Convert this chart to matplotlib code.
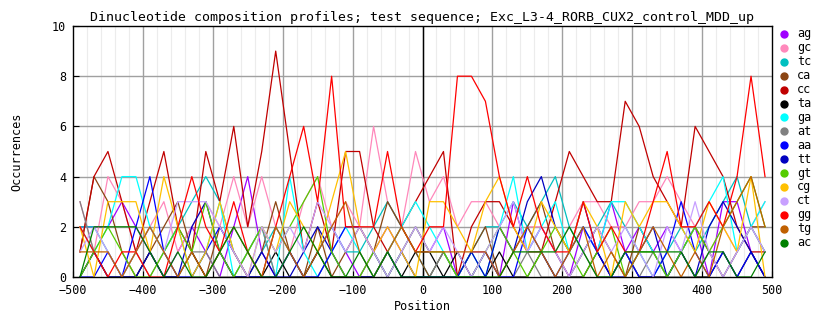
import matplotlib
matplotlib.use("Agg")
import matplotlib.pyplot as plt
from matplotlib.lines import Line2D
import numpy as np

positions = list(range(-490, 491, 20))

names = ["ag", "gc", "tc", "ca", "cc", "ta", "ga", "at", "aa", "tt", "gt", "cg", "ct", "gg", "tg", "ac"]
colors = ["#a000ff", "#ff88bb", "#00c0c0", "#8b4513", "#c00000", "#000000", "#00ffff", "#808080",
          "#0000ff", "#0000c0", "#55cc00", "#ffc000", "#c8a0ff", "#ff0000", "#c06000", "#008000"]

ag = [2,2,2,3,2,1,0,1,2,1,0,2,4,1,0,1,0,1,2,1,0,1,2,1,2,1,2,0,1,1,0,3,1,2,1,0,2,1,3,1,2,1,2,1,2,0,3,3,1,0]
gc = [3,1,4,3,1,2,3,1,2,3,2,4,2,4,2,1,3,4,2,3,2,6,3,2,5,3,4,2,3,3,2,1,2,2,1,2,3,3,2,2,3,3,4,3,2,1,2,1,2,3]
tc = [2,2,1,0,1,2,1,2,3,4,3,1,0,1,2,1,0,1,2,1,1,2,3,2,1,0,1,0,1,2,2,3,2,3,4,2,1,2,3,2,1,0,1,2,1,2,3,4,2,1]
ca = [1,4,3,1,0,1,2,3,1,0,2,1,0,1,3,1,0,2,0,1,2,1,3,2,1,0,1,0,1,2,0,1,2,3,1,0,1,2,1,0,2,1,0,1,2,1,0,1,2,2]
cc = [1,4,5,3,1,3,5,2,1,5,3,6,2,5,9,5,1,3,1,5,5,2,1,2,3,4,5,0,2,3,3,2,1,1,3,5,4,3,3,7,6,4,3,2,6,5,4,2,1,1]
ta = [0,1,0,0,0,1,0,0,1,0,1,0,0,0,1,0,0,1,0,0,0,0,1,0,1,1,0,1,0,0,1,0,0,1,0,0,0,1,0,1,0,0,0,1,0,0,1,0,1,0]
ga = [2,1,2,4,4,2,1,2,0,1,3,0,1,2,0,4,1,0,1,2,1,0,1,2,3,2,1,0,1,0,2,4,1,2,3,1,2,1,3,3,2,1,0,1,2,3,4,1,2,3]
at = [3,1,0,0,1,0,1,0,1,1,0,0,1,2,0,1,0,0,1,0,0,1,0,1,0,0,1,0,0,1,0,0,1,0,0,0,1,0,0,1,0,1,0,0,0,1,0,1,2,1]
aa = [0,0,1,0,2,4,1,0,0,1,2,1,0,0,0,1,0,0,1,2,2,1,0,1,0,0,0,0,0,1,0,0,2,1,0,1,2,1,0,1,0,0,1,3,1,0,1,0,1,0]
tt = [0,1,0,0,0,1,0,0,2,3,1,0,0,1,0,0,1,2,1,0,0,0,1,0,0,0,0,0,1,0,2,1,3,4,2,1,3,1,0,0,1,2,0,1,0,2,3,2,1,0]
gt = [0,1,2,1,0,0,1,2,1,3,1,0,1,2,1,2,3,4,1,0,0,1,0,1,2,1,1,0,0,1,2,1,0,1,2,1,0,1,2,0,1,1,0,1,2,1,2,3,4,2]
cg = [2,0,3,3,3,1,4,2,0,1,3,1,0,2,1,3,2,1,3,5,2,1,2,1,0,3,3,2,1,3,4,2,1,3,2,1,3,2,0,3,2,3,3,2,1,3,2,1,4,0]
ct = [1,2,1,0,1,2,1,3,3,3,2,1,0,2,1,2,1,3,2,1,2,1,0,1,2,1,2,1,0,1,2,3,1,2,1,0,1,2,1,2,1,0,2,1,3,1,0,1,2,1]
gg = [2,1,0,1,1,0,0,2,4,2,1,3,1,0,2,4,6,3,8,2,2,2,5,2,1,2,2,8,8,7,4,2,4,2,1,1,3,1,2,1,1,3,5,2,2,3,2,4,8,4]
tg = [1,1,1,0,1,2,1,0,1,0,1,2,1,0,2,1,0,1,2,3,1,0,1,2,1,1,1,1,1,1,0,1,2,1,0,1,2,0,1,0,1,2,1,0,1,0,2,3,4,2]
ac = [0,2,2,2,2,1,0,1,0,0,1,2,1,0,0,1,2,1,0,0,1,0,1,0,0,0,0,0,0,0,0,1,1,1,1,2,1,0,0,1,1,1,1,1,0,1,1,0,0,1]

series = [ag, gc, tc, ca, cc, ta, ga, at, aa, tt, gt, cg, ct, gg, tg, ac]

W, H = 834, 328
fig = plt.figure(figsize=(W / 100, H / 100), dpi=100)
L, R, T, B = 73, 772, 26, 277
ax = fig.add_axes([L / W, 1 - B / H, (R - L) / W, (B - T) / H])

fnt = "DejaVu Sans Mono"
fs = 8.5

for x in range(-480, 500, 20):
    if x % 100 != 0:
        ax.axvline(x, color="#ececec", lw=0.8, zorder=0)
for x in range(-400, 500, 100):
    ax.axvline(x, color="#a0a0a0", lw=1.0, zorder=0.5)
for y in range(2, 10, 2):
    ax.axhline(y, color="#a0a0a0", lw=1.0, zorder=0.5)
ax.axvline(0, color="black", lw=1.0, zorder=0.6)

for vals, c in zip(series, colors):
    ax.plot(positions, vals, color=c, lw=0.9, zorder=2)

ax.set_xlim(-500, 500)
ax.set_ylim(0, 10)
ax.set_xticks(range(-500, 501, 100))
ax.set_yticks(range(0, 11, 2))
ax.tick_params(direction="in", length=4, width=0.8, labelsize=fs)
ax.tick_params(axis="x", pad=5)
ax.tick_params(axis="y", pad=5)
for lab in ax.get_xticklabels() + ax.get_yticklabels():
    lab.set_fontfamily(fnt)
for s in ax.spines.values():
    s.set_linewidth(1.0)
    s.set_color("black")

fig.text((L + R) / 2 / W, 1 - 18 / H,
         "Dinucleotide composition profiles; test sequence; Exc_L3-4_RORB_CUX2_control_MDD_up",
         ha="center", va="center", fontsize=9.5, family=fnt)
fig.text(17 / W, 1 - 152 / H, "Occurrences", rotation=90, ha="center", va="center",
         fontsize=fs, family=fnt)
fig.text((L + R) / 2 / W, 1 - 306 / H, "Position", ha="center", va="center",
         fontsize=fs, family=fnt)

for i, (n, c) in enumerate(zip(names, colors)):
    yp = 34 + 13.9 * i
    fig.add_artist(Line2D([784 / W], [1 - yp / H], marker="o", markersize=5,
                          color=c, transform=fig.transFigure, linestyle="none"))
    fig.text(797 / W, 1 - yp / H, n, ha="left", va="center", fontsize=fs, family=fnt)

fig.savefig("out.png", dpi=100)
